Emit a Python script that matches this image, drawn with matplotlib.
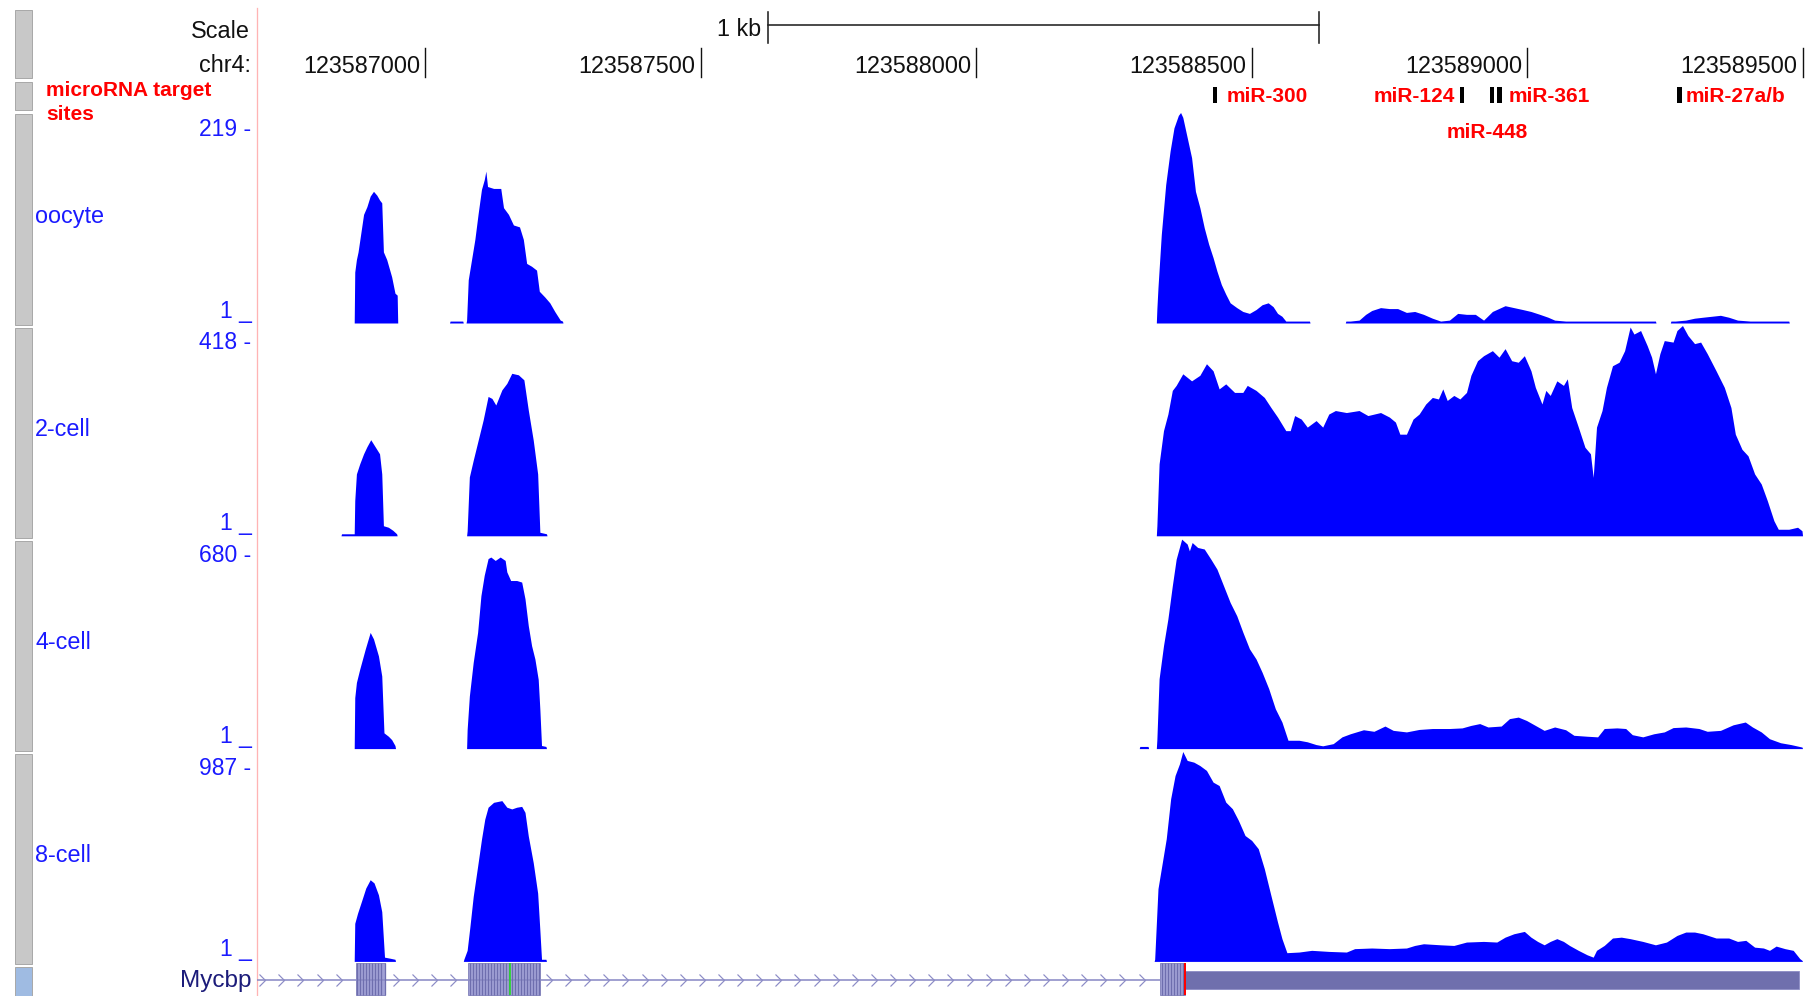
import numpy as np
import matplotlib
matplotlib.use("Agg")
import matplotlib.pyplot as plt
from matplotlib.patches import Rectangle
from matplotlib.path import Path

plt.rcParams['font.family'] = ['Liberation Sans', 'DejaVu Sans']

# ---------------- data ----------------
chrom_label = "chr4:"
view_start = 123586694
view_end = 123589503
ruler_ticks = [123587000, 123587500, 123588000, 123588500, 123589000, 123589500]
scale_bar_start = 123587622
scale_bar_end = 123588622
scale_label = "1 kb"

mirna_track_label = ["microRNA target", "sites"]
mirna_names = ["miR-300", "miR-124", "miR-448", "miR-361", "miR-27a/b"]
mirna_pos = [123588433, 123588882, 123588936, 123588950, 123589277]
mirna_width = 8

track_names = ["oocyte", "2-cell", "4-cell", "8-cell"]
track_max = [219, 418, 680, 987]
track_min = [1, 1, 1, 1]

oocyte_pos = [
    123586871, 123586872, 123586875, 123586878, 123586888, 123586894, 123586900, 123586906,
    123586912, 123586917, 123586921, 123586924, 123586930, 123586939, 123586945, 123586949,
    123586950, 123587044, 123587045, 123587068, 123587069, 123587074, 123587075, 123587078,
    123587084, 123587090, 123587096, 123587102, 123587107, 123587110, 123587113, 123587124,
    123587137, 123587142, 123587151, 123587160, 123587171, 123587178, 123587184, 123587193,
    123587202, 123587207, 123587217, 123587226, 123587235, 123587245, 123587249, 123587250,
    123588327, 123588328, 123588330, 123588336, 123588344, 123588352, 123588359, 123588367,
    123588371, 123588375, 123588383, 123588391, 123588398, 123588406, 123588414, 123588422,
    123588430, 123588437, 123588445, 123588453, 123588461, 123588473, 123588484, 123588496,
    123588508, 123588519, 123588530, 123588539, 123588547, 123588555, 123588562, 123588586,
    123588605, 123588606, 123588670, 123588671, 123588679, 123588695, 123588707, 123588718,
    123588734, 123588750, 123588765, 123588781, 123588796, 123588812, 123588828, 123588843,
    123588859, 123588874, 123588890, 123588906, 123588921, 123588937, 123588960, 123588976,
    123588992, 123589007, 123589023, 123589038, 123589050, 123589070, 123589124, 123589155,
    123589187, 123589202, 123589233, 123589234, 123589260, 123589261, 123589269, 123589288,
    123589304, 123589319, 123589335, 123589351, 123589366, 123589382, 123589405, 123589444,
    123589475, 123589476]
oocyte_val = [
    0, 53, 66, 74, 113, 121, 132, 137,
    133, 128, 125, 74, 66, 48, 31, 29,
    0, 0, 2, 2, 0, 0, 3, 45,
    66, 87, 114, 139, 149, 158, 142, 140,
    140, 120, 113, 102, 100, 87, 62, 59,
    55, 33, 27, 21, 12, 3, 2, 0,
    0, 15, 37, 92, 144, 179, 203, 216,
    219, 214, 193, 172, 137, 120, 99, 82,
    68, 54, 40, 30, 21, 16, 12, 10,
    14, 19, 21, 17, 10, 7, 2, 2,
    2, 0, 0, 2, 2, 3, 9, 13,
    16, 15, 15, 11, 12, 9, 5, 2,
    3, 10, 9, 9, 3, 12, 18, 16,
    14, 12, 9, 6, 3, 2, 2, 2,
    2, 2, 2, 0, 0, 2, 2, 3,
    5, 6, 7, 8, 6, 3, 2, 2,
    2, 0]

cell2_pos = [
    123586847, 123586848, 123586871, 123586872, 123586875, 123586881, 123586888, 123586894,
    123586901, 123586909, 123586917, 123586921, 123586924, 123586933, 123586941, 123586948,
    123586949, 123587075, 123587076, 123587080, 123587087, 123587096, 123587105, 123587114,
    123587121, 123587128, 123587139, 123587148, 123587157, 123587169, 123587179, 123587187,
    123587196, 123587204, 123587208, 123587220, 123587221,
    123588327, 123588328, 123588332, 123588340, 123588348, 123588356, 123588363, 123588375,
    123588391, 123588406, 123588418, 123588430, 123588441, 123588453, 123588469, 123588484,
    123588492, 123588508, 123588523, 123588535, 123588547, 123588562, 123588570, 123588578,
    123588590, 123588601, 123588617, 123588629, 123588640, 123588652, 123588672, 123588695,
    123588711, 123588734, 123588750, 123588761, 123588769, 123588781, 123588793, 123588804,
    123588816, 123588828, 123588839, 123588847, 123588855, 123588867, 123588878, 123588890,
    123588898, 123588910, 123588921, 123588937, 123588949, 123588960, 123588972, 123588984,
    123588995, 123589007, 123589015, 123589027, 123589034, 123589042, 123589054, 123589066,
    123589073, 123589081, 123589093, 123589105, 123589115, 123589120, 123589126, 123589136,
    123589144, 123589155, 123589167, 123589177, 123589187, 123589194, 123589206, 123589218,
    123589226, 123589233, 123589241, 123589249, 123589265, 123589272, 123589282, 123589292,
    123589304, 123589315, 123589327, 123589343, 123589358, 123589370, 123589378, 123589390,
    123589401, 123589413, 123589425, 123589436, 123589448, 123589456, 123589475, 123589491,
    123589499, 123589500]
cell2_val = [
    0, 4, 4, 70, 123, 143, 163, 177,
    191, 177, 163, 123, 20, 17, 11, 4,
    0, 0, 10, 117, 150, 190, 230, 277,
    273, 260, 290, 303, 323, 320, 310, 250,
    190, 123, 7, 4, 0,
    0, 20, 143, 209, 242, 289, 299, 322,
    308, 319, 342, 328, 292, 302, 285, 285,
    299, 289, 275, 255, 236, 209, 209, 239,
    232, 216, 229, 216, 242, 249, 245, 249,
    239, 245, 236, 226, 202, 202, 232, 242,
    262, 275, 272, 292, 269, 279, 272, 285,
    319, 348, 358, 368, 355, 372, 348, 345,
    358, 328, 295, 262, 289, 279, 308, 299,
    312, 255, 216, 176, 163, 116, 216, 249,
    295, 338, 345, 368, 415, 401, 408, 378,
    355, 322, 362, 388, 385, 408, 418, 398,
    382, 385, 362, 328, 295, 255, 202, 172,
    159, 123, 103, 70, 30, 13, 13, 17,
    10, 0]

cell4_pos = [
    123586871, 123586872, 123586875, 123586881, 123586891, 123586900, 123586906, 123586915,
    123586921, 123586925, 123586933, 123586939, 123586945, 123586946,
    123587075, 123587076, 123587080, 123587087, 123587095, 123587101, 123587107, 123587114,
    123587119, 123587127, 123587136, 123587145, 123587148, 123587155, 123587166, 123587175,
    123587181, 123587187, 123587193, 123587199, 123587205, 123587208, 123587211, 123587219,
    123587220, 123588296, 123588297, 123588312, 123588313,
    123588327, 123588328, 123588332, 123588340, 123588348, 123588356, 123588363, 123588373,
    123588383, 123588387, 123588392, 123588402, 123588414, 123588426, 123588437, 123588449,
    123588461, 123588473, 123588484, 123588496, 123588508, 123588519, 123588531, 123588543,
    123588555, 123588566, 123588586, 123588601, 123588617, 123588629, 123588648, 123588664,
    123588679, 123588703, 123588722, 123588742, 123588757, 123588781, 123588804, 123588828,
    123588859, 123588882, 123588898, 123588914, 123588929, 123588953, 123588968, 123588984,
    123588999, 123589015, 123589031, 123589050, 123589070, 123589085, 123589109, 123589128,
    123589140, 123589163, 123589179, 123589191, 123589210, 123589230, 123589249, 123589265,
    123589288, 123589312, 123589327, 123589351, 123589374, 123589396, 123589409, 123589425,
    123589440, 123589460, 123589479, 123589499, 123589500]
cell4_val = [
    0, 165, 214, 257, 322, 376, 355, 300,
    235, 51, 40, 29, 10, 0,
    0, 62, 170, 279, 376, 495, 561, 615,
    620, 609, 620, 609, 572, 544, 544, 539,
    485, 398, 333, 290, 224, 127, 10, 7,
    0, 0, 7, 7, 0,
    0, 30, 226, 333, 420, 527, 613, 678,
    662, 640, 667, 651, 646, 613, 581, 527,
    473, 430, 377, 323, 290, 247, 194, 129,
    86, 27, 27, 22, 13, 9, 16, 38,
    48, 61, 56, 73, 59, 54, 62, 65,
    65, 67, 75, 81, 70, 73, 97, 102,
    91, 75, 59, 70, 61, 43, 40, 38,
    65, 67, 65, 45, 38, 48, 54, 68,
    70, 65, 56, 59, 77, 86, 70, 54,
    32, 19, 13, 5, 0]

cell8_pos = [
    123586871, 123586872, 123586877, 123586885, 123586892, 123586900, 123586907, 123586915,
    123586921, 123586926, 123586936, 123586945, 123586946,
    123587069, 123587070, 123587076, 123587081, 123587087, 123587095, 123587102, 123587108,
    123587114, 123587124, 123587139, 123587148, 123587157, 123587166, 123587175, 123587181,
    123587187, 123587196, 123587204, 123587208, 123587211, 123587219, 123587220,
    123588323, 123588324, 123588330, 123588338, 123588345, 123588353, 123588361, 123588369,
    123588375, 123588383, 123588395, 123588406, 123588418, 123588430, 123588441, 123588453,
    123588465, 123588476, 123588488, 123588500, 123588512, 123588523, 123588535, 123588547,
    123588555, 123588564, 123588586, 123588609, 123588640, 123588672, 123588687, 123588718,
    123588750, 123588781, 123588796, 123588812, 123588843, 123588867, 123588890, 123588921,
    123588945, 123588960, 123588976, 123588995, 123589007, 123589019, 123589031, 123589042,
    123589054, 123589066, 123589077, 123589093, 123589109, 123589120, 123589126, 123589140,
    123589155, 123589171, 123589187, 123589210, 123589233, 123589253, 123589272, 123589288,
    123589304, 123589319, 123589343, 123589366, 123589382, 123589397, 123589413, 123589429,
    123589440, 123589452, 123589468, 123589483, 123589495, 123589499, 123589500]
cell8_val = [
    0, 179, 226, 289, 345, 384, 369, 313,
    234, 20, 15, 10, 0,
    0, 10, 52, 163, 305, 447, 574, 669,
    725, 748, 756, 725, 717, 725, 729, 701,
    590, 464, 321, 147, 10, 10, 0,
    0, 10, 342, 467, 577, 765, 874, 929,
    987, 945, 937, 921, 898, 843, 827, 749,
    718, 663, 592, 569, 530, 436, 310, 185,
    107, 41, 44, 52, 47, 44, 60, 63,
    60, 63, 75, 83, 78, 75, 91, 94,
    91, 114, 130, 141, 114, 94, 78, 94,
    107, 94, 75, 52, 31, 20, 52, 75,
    110, 114, 107, 94, 78, 91, 122, 138,
    138, 130, 110, 110, 94, 99, 67, 63,
    52, 72, 60, 52, 13, 5, 0]

track_pos = [oocyte_pos, cell2_pos, cell4_pos, cell8_pos]
track_val = [oocyte_val, cell2_val, cell4_val, cell8_val]

gene_name = "Mycbp"
exon_starts = [123586874, 123587078, 123588334]
exon_ends = [123586927, 123587208, 123589494]
cds_end = 123588379
variant_pos = 123587154

# ---------------- layout ----------------
W, H = 1813, 996
DPI = 100
PT = 72.0 / DPI  # points per pixel
fig = plt.figure(figsize=(W / DPI, H / DPI), dpi=DPI)
fig.patch.set_facecolor("white")


def box(x0, y0, x1, y1):
    return [x0 / W, 1 - y1 / H, (x1 - x0) / W, (y1 - y0) / H]


GX0, GX1 = 256.7, 1804.2
BLUE = "#0000ff"
LBLUE = "#1a1aff"

ax_bg = fig.add_axes([0, 0, 1, 1])
ax_bg.set_xlim(0, W)
ax_bg.set_ylim(H, 0)
ax_bg.axis("off")

# left side bars
side = [(10, 78, "#c8c8c8"), (82, 110, "#c8c8c8"), (114, 325, "#c8c8c8"),
        (328, 538, "#c8c8c8"), (541, 751, "#c8c8c8"), (754, 964, "#c8c8c8"),
        (967, 996, "#9fbbe2")]
for y0, y1, c in side:
    ax_bg.add_patch(Rectangle((15, y0), 17, y1 - y0, facecolor=c,
                              edgecolor="#a9a9a9", lw=1 * PT))

# pink guide line
ax_bg.plot([GX0, GX0], [8, H], color="#ffb4b4", lw=1.3 * PT)

ax_bg.text(250, 38, "Scale", ha="right", va="baseline", fontsize=16.8, color="#111111")
ax_bg.text(251, 72, chrom_label, ha="right", va="baseline", fontsize=16.8, color="#111111")
ax_bg.text(46, 96, mirna_track_label[0], ha="left", va="baseline", fontsize=15,
           color="#ff0000", fontweight="bold")
ax_bg.text(46, 120, mirna_track_label[1], ha="left", va="baseline", fontsize=15,
           color="#ff0000", fontweight="bold")

# ---------------- ruler + miRNA ----------------
ax_r = fig.add_axes(box(GX0, 0, GX1, 150))
ax_r.set_xlim(view_start, view_end)
ax_r.set_ylim(150, 0)
ax_r.axis("off")
for t in ruler_ticks:
    ax_r.plot([t, t], [48, 77], color="#111111", lw=1.4 * PT, clip_on=False)
    ax_r.annotate(f"{t}", xy=(t, 73), xytext=(-5 * PT, 0), textcoords="offset points",
                  ha="right", va="baseline", fontsize=16.8, color="#111111",
                  annotation_clip=False)
ax_r.plot([scale_bar_start, scale_bar_end], [25, 25], color="#222222", lw=1.6 * PT)
for s in (scale_bar_start, scale_bar_end):
    ax_r.plot([s, s], [12, 43], color="#222222", lw=1.6 * PT)
ax_r.annotate(scale_label, xy=(scale_bar_start, 36), xytext=(-7 * PT, 0),
              textcoords="offset points", ha="right", va="baseline",
              fontsize=16.8, color="#111111")

label_layout = {"miR-300": ("left", 12, 102.5), "miR-124": ("right", -7, 102.5),
                "miR-448": ("center", -5, 138), "miR-361": ("left", 9.5, 102.5),
                "miR-27a/b": ("left", 5.5, 102.5)}
for name, p in zip(mirna_names, mirna_pos):
    ax_r.add_patch(Rectangle((p - mirna_width / 2, 87), mirna_width, 16,
                             facecolor="black", edgecolor="none"))
    ha, dx, yb = label_layout[name]
    ax_r.annotate(name, xy=(p, yb), xytext=(dx * PT, 0), textcoords="offset points",
                  ha=ha, va="baseline", fontsize=15, fontweight="bold",
                  color="#ff0000", annotation_clip=False)

# ---------------- signal tracks ----------------
for i, (name, mx, mn, pos, val) in enumerate(zip(track_names, track_max, track_min,
                                                  track_pos, track_val)):
    top = 112.5 + 213.0 * i
    base = 323.0 + 212.8 * i
    ax = fig.add_axes(box(GX0, top, GX1, base))
    ax.fill_between(pos, 0, val, color=BLUE, lw=0)
    ax.set_xlim(view_start, view_end)
    ax.set_ylim(0, mx)
    ax.axis("off")
    ax_bg.text(251, top + 23.7, f"{mx} -", ha="right", va="baseline",
               fontsize=16.5, color=LBLUE)
    ax_bg.text(251.5, base - 5.5, f"{mn} _", ha="right", va="baseline",
               fontsize=16.5, color=LBLUE)
    ax_bg.text(35, top + 110, name, ha="left", va="baseline",
               fontsize=16.8, color=LBLUE)

# ---------------- gene track ----------------
ax_g = fig.add_axes(box(GX0, 950, GX1, 996))
ax_g.set_xlim(view_start, view_end)
ax_g.set_ylim(996, 950)
ax_g.axis("off")
LINE_C = "#8c8cc6"
YMID = 979.5
ax_g.plot([view_start, exon_starts[-1]], [YMID, YMID], color=LINE_C, lw=1.6 * PT)

chev = Path([(-0.5, 1.0), (0.5, 0.0), (-0.5, -1.0)],
            [Path.MOVETO, Path.LINETO, Path.LINETO])
cx = np.arange(view_start + 10, exon_starts[-1] - 8, 34.7)
inside = np.zeros(len(cx), dtype=bool)
for s, e in zip(exon_starts, exon_ends):
    inside |= (cx > s - 8) & (cx < e + 8)
cx = cx[~inside]
ax_g.plot(cx, np.full(len(cx), YMID), ls="none", marker=chev, markersize=12 * PT,
          markerfacecolor="none", markeredgecolor=LINE_C, markeredgewidth=1.2 * PT)

for s, e in zip(exon_starts, exon_ends):
    cs, ce = s, min(e, cds_end)
    if ce > cs:
        ax_g.add_patch(Rectangle((cs, 963), ce - cs, 32, facecolor="#a2a2d6",
                                 edgecolor="#7a7ab6", lw=0.8 * PT))
        stripes = np.arange(cs + 2.5, ce, 5.5)
        ax_g.vlines(stripes, 963, 995, color="#6e6eae", lw=1.3 * PT)
    us, ue = max(s, cds_end), e
    if ue > us:
        ax_g.add_patch(Rectangle((us, 971), ue - us, 18, facecolor="#6f6fad",
                                 edgecolor="#8a8ac4", lw=0.8 * PT))
ax_g.vlines([cds_end], 963, 995, color="#ff0000", lw=2 * PT)
ax_g.vlines([variant_pos], 963, 995, color="#22dd22", lw=1.6 * PT)

ax_bg.text(252, 987, gene_name, ha="right", va="baseline", fontsize=17.5, color="#1c1c7a")

fig.savefig("out.png", dpi=DPI)
